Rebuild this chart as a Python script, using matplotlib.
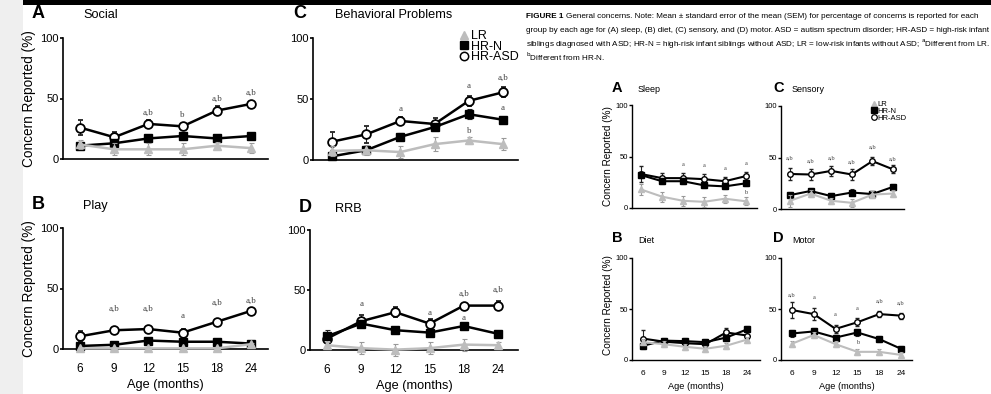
import numpy as np
import matplotlib.pyplot as plt
from matplotlib.patches import Rectangle
from matplotlib.lines import Line2D

W, H = 991, 394

ages = ['6', '9', '12', '15', '18', '24']
groups = ['LR', 'HR-N', 'HR-ASD']

# left figure: social / play / behavioral problems / RRB
social_lr = [12, 8, 8, 8, 11, 9]
social_lr_err = [4, 5, 5, 5, 3, 4]
social_hrn = [11, 13, 17, 19, 17, 19]
social_hrn_err = [2, 2, 2, 2, 2, 2]
social_asd = [26, 18, 29, 27, 40, 45.5]
social_asd_err = [6, 4, 3, 3, 4, 2]
social_sig = [(2, 38, 'a,b'), (3, 36, 'b'), (4, 50, 'a,b'), (5, 55, 'a,b')]

play_lr = [0.5, 0.5, 0.5, 0.5, 0.5, 4]
play_lr_err = [0.5, 0.5, 0.5, 0.5, 0.5, 1]
play_hrn = [2.5, 3.5, 7, 6, 6, 4.5]
play_hrn_err = [1, 1, 1.5, 1.5, 1.5, 1]
play_asd = [10.5, 15.5, 16.5, 13.5, 22.5, 31.5]
play_asd_err = [4, 2, 2, 3, 2, 2]
play_sig = [(1, 33, 'a,b'), (2, 33, 'a,b'), (3, 27, 'a'), (4, 38, 'a,b'), (5, 40, 'a,b')]

behav_lr = [7.5, 8, 6.5, 13, 16, 13]
behav_lr_err = [4, 4, 5, 6, 3, 5]
behav_hrn = [3, 8, 19, 27, 37.5, 33]
behav_hrn_err = [2, 3, 3, 2, 4, 2]
behav_asd = [15, 21, 32, 29.5, 48.5, 55.5]
behav_asd_err = [8, 7, 3, 5, 4, 4]
behav_sig = [(2, 42, 'a'), (4, 61, 'a'), (5, 67, 'a,b'), (5, 43, 'a'), (4, 24, 'b')]

rrb_lr = [4, 1.5, 0.3, 1.5, 4.5, 4]
rrb_lr_err = [3, 5, 5, 5, 5, 3]
rrb_hrn = [11.5, 22, 16.5, 14.5, 20, 13.5]
rrb_hrn_err = [5, 3, 2, 3, 2, 2]
rrb_asd = [9.5, 24, 31.5, 22, 37, 37]
rrb_asd_err = [3, 5, 4, 4, 2, 4]
rrb_sig = [(1, 38, 'a'), (3, 31, 'a'), (4, 47, 'a,b'), (5, 50, 'a,b'), (4, 27, 'a')]

# right figure: sleep / diet / sensory / motor
sleep_lr = [18, 11, 7, 6, 9, 6.5]
sleep_lr_err = [5, 5, 5, 5, 4, 4]
sleep_hrn = [32, 26, 26, 22, 21, 24]
sleep_hrn_err = [3, 3, 3, 3, 3, 3]
sleep_asd = [33, 29, 29, 28, 26, 31]
sleep_asd_err = [8, 5, 5, 5, 4, 4]
sleep_sig = [(2, 42, 'a'), (3, 41, 'a'), (4, 38, 'a'), (5, 43, 'a'), (5, 15, 'b')]

diet_lr = [17.5, 15.5, 13, 11, 14, 20]
diet_lr_err = [3, 3, 3, 3, 3, 3]
diet_hrn = [14, 19, 18.5, 17.5, 22, 30]
diet_hrn_err = [3, 3, 3, 3, 3, 3]
diet_asd = [21, 18, 16.5, 15.5, 27, 24]
diet_asd_err = [8, 3, 3, 3, 4, 3]
diet_sig = []

sensory_lr = [8, 15, 8, 6, 14, 15]
sensory_lr_err = [6, 3, 3, 4, 3, 3]
sensory_hrn = [13.5, 17.5, 12.5, 16, 14.5, 21.5]
sensory_hrn_err = [3, 3, 3, 3, 3, 3]
sensory_asd = [34, 33.5, 37, 33.5, 46.5, 38.5]
sensory_asd_err = [6, 5, 5, 5, 4, 4]
sensory_sig = [(0, 50, 'a,b'), (1, 47, 'a,b'), (2, 50, 'a,b'), (3, 46, 'a,b'), (4, 60, 'a,b'), (5, 49, 'a,b')]

motor_lr = [16, 24.5, 15.5, 8, 8, 5]
motor_lr_err = [3, 3, 3, 3, 3, 3]
motor_hrn = [26, 28, 22, 27, 20.5, 11]
motor_hrn_err = [3, 3, 3, 3, 3, 3]
motor_asd = [49, 45, 30.5, 37, 45, 43.5]
motor_asd_err = [8, 6, 4, 4, 3, 3]
motor_sig = [(0, 64, 'a,b'), (1, 61, 'a'), (2, 45, 'a'), (3, 50, 'a'), (4, 58, 'a,b'), (5, 56, 'a,b'), (3, 17, 'b')]

caption_lines = [
    "General concerns. Note: Mean \u00b1 standard error of the mean (SEM) for percentage of concerns is reported for each",
    "group by each age for (A) sleep, (B) diet, (C) sensory, and (D) motor. ASD = autism spectrum disorder; HR-ASD = high-risk infant",
    "siblings diagnosed with ASD; HR-N = high-risk infant siblings without ASD; LR = low-risk infants without ASD; $^{\\rm a}$Different from LR.",
    "$^{\\rm b}$Different from HR-N.",
]

GRAY = '#bdbdbd'
SANS = ['Liberation Sans', 'DejaVu Sans']
NARROW = ['Liberation Sans Narrow', 'Liberation Sans', 'DejaVu Sans']
SERIF = ['Liberation Serif', 'DejaVu Serif']


def fx(px):
    return px / W


def fy(py):
    return 1 - py / H


def make_ax(fig, left, top, right, bottom, x0, x5):
    ax = fig.add_axes([fx(left), fy(bottom), (right - left) / W, (bottom - top) / H])
    step = (x5 - x0) / 5
    ax.set_xlim((left - x0) / step, (right - x0) / step)
    ax.set_ylim(0, 100)
    return ax


def draw(ax, lr, lr_e, hrn, hrn_e, asd, asd_e, sig, big=True, xlabels=False):
    x = np.arange(len(ages))
    ms = 6.3 if big else 4.0
    lw = 1.8 if big else 1.5
    sp = 1.2 if big else 1.0
    eb = dict(elinewidth=0.8, capsize=1.8 if big else 1.2, capthick=0.8)
    ax.errorbar(x, asd, yerr=asd_e, color='k', lw=lw, marker='o', ms=ms, mfc='white',
                mec='k', mew=1.3 if big else 1.0, ecolor='#222222', zorder=3, clip_on=False, **eb)
    ax.errorbar(x, hrn, yerr=hrn_e, color='k', lw=lw, marker='s', ms=ms * 0.95, mfc='k',
                mec='k', ecolor='#222222', zorder=4, clip_on=False, **eb)
    ax.errorbar(x, lr, yerr=lr_e, color=GRAY, lw=lw, marker='^', ms=ms, mfc=GRAY,
                mec=GRAY, ecolor='#999999', zorder=5, clip_on=False, **eb)
    for i, yv, txt in sig:
        ax.text(i, yv, txt, ha='center', va='center', fontsize=6.5 if big else 4.5,
                family=SERIF, color='#444444')
    for s in ['top', 'right']:
        ax.spines[s].set_visible(False)
    for s in ['left', 'bottom']:
        ax.spines[s].set_linewidth(sp)
    ax.set_yticks([0, 50, 100])
    ax.set_xticks(x)
    ax.tick_params(axis='y', length=2, width=sp, pad=1,
                   labelsize=8 if big else 5.5)
    ax.tick_params(axis='x', length=0, pad=10 if big else 7, labelsize=8.5 if big else 6)
    fam = SANS if big else NARROW
    if xlabels:
        ax.set_xticklabels(ages, family=fam)
        ax.set_xlabel('Age (months)', fontsize=9.2 if big else 6.7, family=fam, labelpad=3 if big else 4)
    else:
        ax.set_xticklabels([])
    for t in ax.get_yticklabels():
        t.set_family(fam)


fig = plt.figure(figsize=(W / 100, H / 100), dpi=100)
fig.patch.set_facecolor('white')
fig.add_artist(Rectangle((0, 0), fx(23), 1, transform=fig.transFigure,
                         facecolor='#efefef', edgecolor='none', zorder=0))
fig.add_artist(Rectangle((fx(23), fy(5)), 1 - fx(23), 5 / H, transform=fig.transFigure,
                         facecolor='black', edgecolor='none', zorder=0))

# ---- left figure
ax = make_ax(fig, 63, 38, 268, 159, 80, 251)
draw(ax, social_lr, social_lr_err, social_hrn, social_hrn_err, social_asd, social_asd_err, social_sig)
ax = make_ax(fig, 63, 228, 268, 349, 80, 251)
draw(ax, play_lr, play_lr_err, play_hrn, play_hrn_err, play_asd, play_asd_err, play_sig, xlabels=True)
axc = make_ax(fig, 313, 38, 518, 160, 332, 503)
draw(axc, behav_lr, behav_lr_err, behav_hrn, behav_hrn_err, behav_asd, behav_asd_err, behav_sig)
ax = make_ax(fig, 310, 230, 518, 350, 327, 498)
draw(ax, rrb_lr, rrb_lr_err, rrb_hrn, rrb_hrn_err, rrb_asd, rrb_asd_err, rrb_sig, xlabels=True)

for (lx, ly, letter, title) in [(32, 14, 'A', 'Social'), (32, 205, 'B', 'Play'),
                                (293, 14, 'C', 'Behavioral Problems'), (299, 208, 'D', 'RRB')]:
    fig.text(fx(lx), fy(ly), letter, fontsize=13, fontweight='bold', family=SANS, va='center')
    fig.text(fx(lx + 51 if letter in 'AB' else 335), fy(ly + 1), title, fontsize=9.2, family=SANS, va='center')

for yc in [98.5, 288.5]:
    fig.text(fx(29), fy(yc), 'Concern Reported (%)', rotation=90, fontsize=9.8,
             family=SANS, ha='center', va='center')

handles = [Line2D([], [], marker='^', ls='none', color=GRAY, ms=6),
           Line2D([], [], marker='s', ls='none', color='k', ms=6),
           Line2D([], [], marker='o', ls='none', mfc='white', mec='k', mew=1.1, ms=6)]
axc.legend(handles, groups, loc='upper left', bbox_to_anchor=(fx(460), fy(30)),
           bbox_transform=fig.transFigure, frameon=False, handlelength=0.6,
           handletextpad=0.3, labelspacing=-0.1, borderpad=0, borderaxespad=0,
           prop={'family': SANS, 'size': 9})

# ---- right figure
axs = make_ax(fig, 632, 105, 757, 208, 641, 746)
draw(axs, sleep_lr, sleep_lr_err, sleep_hrn, sleep_hrn_err, sleep_asd, sleep_asd_err, sleep_sig, big=False)
ax = make_ax(fig, 632, 258, 760, 360, 643, 747)
draw(ax, diet_lr, diet_lr_err, diet_hrn, diet_hrn_err, diet_asd, diet_asd_err, diet_sig, big=False, xlabels=True)
axr = make_ax(fig, 781, 106, 904, 209, 790, 893)
draw(axr, sensory_lr, sensory_lr_err, sensory_hrn, sensory_hrn_err, sensory_asd, sensory_asd_err, sensory_sig, big=False)
ax = make_ax(fig, 781, 258, 912, 360, 792, 901)
draw(ax, motor_lr, motor_lr_err, motor_hrn, motor_hrn_err, motor_asd, motor_asd_err, motor_sig, big=False, xlabels=True)

for (lx, ly, letter, title) in [(612, 88, 'A', 'Sleep'), (612, 238, 'B', 'Diet'),
                                (773, 88, 'C', 'Sensory'), (773, 238, 'D', 'Motor')]:
    fig.text(fx(lx), fy(ly), letter, fontsize=10.5, fontweight='bold', family=NARROW, va='center')
    fig.text(fx(lx + 26 if letter in 'AB' else lx + 19), fy(ly + 2), title, fontsize=6.5, family=NARROW, va='center')

for yc in [156, 305]:
    fig.text(fx(608), fy(yc), 'Concern Reported (%)', rotation=90, fontsize=7.2,
             family=SANS, ha='center', va='center')

handles_s = [Line2D([], [], marker='^', ls='none', color=GRAY, ms=4),
             Line2D([], [], marker='s', ls='none', color='k', ms=4),
             Line2D([], [], marker='o', ls='none', mfc='white', mec='k', mew=0.9, ms=4)]
axr.legend(handles_s, groups, loc='upper left', bbox_to_anchor=(fx(872), fy(101)),
           bbox_transform=fig.transFigure, frameon=False, handlelength=0.5,
           handletextpad=0.2, labelspacing=-0.1, borderpad=0, borderaxespad=0,
           prop={'family': NARROW, 'size': 5.5})

# ---- caption
cap_x0 = 526
cap_y = [16, 30, 44, 57]
cap_fs = 5.85
fig.text(fx(cap_x0), fy(cap_y[0]), 'FIGURE 1', fontsize=cap_fs, fontweight='bold',
         family=NARROW, va='center')
for i, line in enumerate(caption_lines):
    x0 = cap_x0 + 40 if i == 0 else cap_x0
    fig.text(fx(x0), fy(cap_y[i]), line, fontsize=cap_fs, family=NARROW, va='center')

fig.savefig('out.png', dpi=100)
